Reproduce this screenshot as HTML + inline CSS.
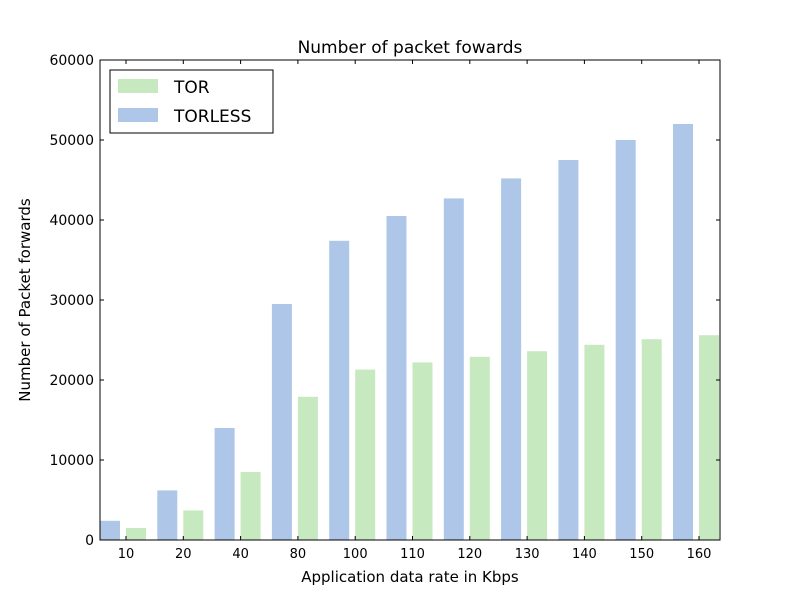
<!DOCTYPE html>
<html><head><meta charset="utf-8"><style>
body{margin:0;background:#fff;font-family:"DejaVu Sans","Liberation Sans",sans-serif;}
svg text{font-family:"DejaVu Sans","Liberation Sans",sans-serif;}
</style></head><body>
<svg id="chart" width="800" height="600" xmlns="http://www.w3.org/2000/svg">
<rect width="800" height="600" fill="#fff"/>
<text x="410" y="53" font-size="17" text-anchor="middle">Number of packet fowards</text>
<text x="410" y="582" font-size="15" text-anchor="middle">Application data rate in Kbps</text>
<text transform="translate(30,300) rotate(-90)" font-size="15" text-anchor="middle">Number of Packet forwards</text>
<g id="bars"></g>
<g id="axes"></g>
<rect x="100" y="60" width="620" height="480" fill="none" stroke="#000" stroke-width="1"/>
<g>
<rect x="110" y="70" width="163" height="63" fill="#fff" stroke="#000"/>
<rect x="118" y="79" width="40" height="14" fill="#c7e9c0"/>
<text x="174" y="93" font-size="17">TOR</text>
<rect x="118" y="108" width="40" height="14" fill="#aec7e8"/>
<text x="174" y="122" font-size="17">TORLESS</text>
</g>
</svg>
<script>
const categories=["10","20","40","80","100","110","120","130","140","150","160"];
const torless=[2400,6200,14000,29500,37400,40500,42700,45200,47500,50000,52000];
const tor=[1500,3700,8500,17900,21300,22200,22900,23600,24400,25100,25600];
const yTicks=[0,10000,20000,30000,40000,50000,60000];
const NS="http://www.w3.org/2000/svg";
const y=v=>540-v*480/60000;
const step=620/10.82;
const xs=i=>100+step*i;
function mk(tag,attrs,parent){const e=document.createElementNS(NS,tag);for(const k in attrs)e.setAttribute(k,attrs[k]);parent.appendChild(e);return e;}
const bars=document.getElementById('bars'),axes=document.getElementById('axes');
categories.forEach((c,i)=>{
  const b1=mk('rect',{x:xs(i),y:y(torless[i]),width:20,height:540-y(torless[i]),fill:'#aec7e8'},bars);
  
  
  const b2=mk('rect',{x:xs(i)+26,y:y(tor[i]),width:20,height:540-y(tor[i]),fill:'#c7e9c0'},bars);
  
  
  const tx=xs(i)+26;
  mk('line',{x1:tx,x2:tx,y1:540,y2:536,stroke:'#000'},axes);
  mk('line',{x1:tx,x2:tx,y1:60,y2:64,stroke:'#000'},axes);
  const t=mk('text',{x:tx,y:558,'font-size':13,'text-anchor':'middle'},axes);
  t.textContent=c;
  
  
});
yTicks.forEach(v=>{
  mk('line',{x1:100,x2:104,y1:y(v),y2:y(v),stroke:'#000'},axes);
  mk('line',{x1:716,x2:720,y1:y(v),y2:y(v),stroke:'#000'},axes);
  const t=mk('text',{x:94,y:y(v)+5,'font-size':14,'text-anchor':'end'},axes);
  t.textContent=v;
  
  
});
</script>
</body></html>
